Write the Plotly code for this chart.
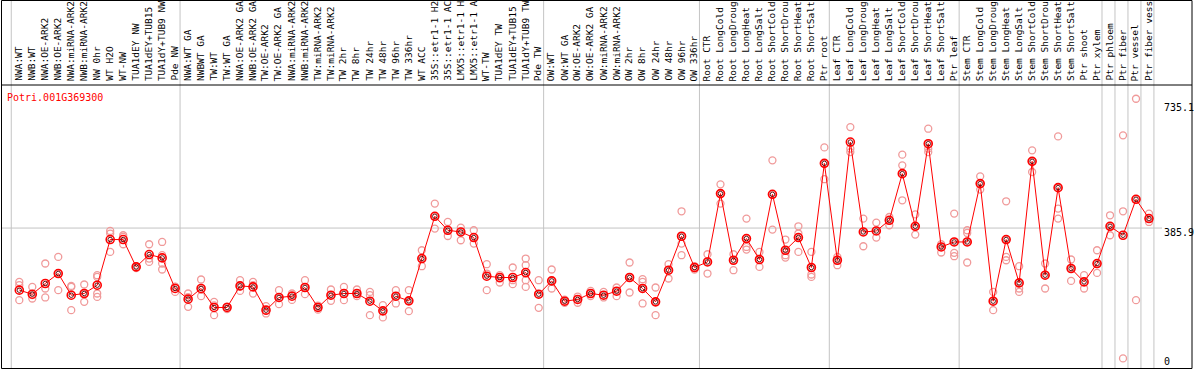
import plotly.graph_objects as go

gene = "Potri.001G369300"

labels = [
    "NWA:WT", "NWB:WT", "NWA:OE-ARK2", "NWB:OE-ARK2", "NWA:miRNA-ARK2", "NWB:miRNA-ARK2",
    "NW 0hr", "WT H2O", "WT-NW", "TUA1dEY NW", "TUA1dEY+TUB15 NW", "TUA1dY+TUB9 NW", "Pde NW",
    "NWA:WT GA", "NWBWT GA", "TW:WT", "TW:WT GA", "NWA:OE-ARK2 GA", "NWB:OE-ARK2 GA",
    "TW:OE-ARK2", "TW:OE-ARK2 GA", "NWA:miRNA-ARK2", "NWB:miRNA-ARK2", "TW:miRNA-ARK2",
    "TW:miRNA-ARK2", "TW 2hr", "TW 8hr", "TW 24hr", "TW 48hr", "TW 96hr", "TW 336hr", "WT ACC",
    "35S::etr1-1 H2O", "35S::etr1-1 ACC", "LMX5::etr1-1 H2O", "LMX5::etr1-1 ACC", "WT-TW",
    "TUA1dEY TW", "TUA1dEY+TUB15 TW", "TUA1dY+TUB9 TW", "Pde TW",
    "OW:WT", "OW:WT GA", "OW:OE-ARK2", "OW:OE-ARK2 GA", "OW:miRNA-ARK2", "OW:miRNA-ARK2",
    "OW 2hr", "OW 8hr", "OW 24hr", "OW 48hr", "OW 96hr", "OW 336hr",
    "Root CTR", "Root LongCold", "Root LongDrought", "Root LongHeat", "Root LongSalt",
    "Root ShortCold", "Root ShortDrought", "Root ShortHeat", "Root ShortSalt", "Ptr root",
    "Leaf CTR", "Leaf LongCold", "Leaf LongDrought", "Leaf LongHeat", "Leaf LongSalt",
    "Leaf ShortCold", "Leaf ShortDrought", "Leaf ShortHeat", "Leaf ShortSalt", "Ptr leaf",
    "Stem CTR", "Stem LongCold", "Stem LongDrought", "Stem LongHeat", "Stem LongSalt",
    "Stem ShortCold", "Stem ShortDrought", "Stem ShortHeat", "Stem ShortSalt", "Ptr shoot",
    "Ptr xylem", "Ptr phloem", "Ptr fiber", "Ptr vessel", "Ptr fiber vessel",
]

means = [
    206.4, 194.8, 225.7, 254.5, 191.9, 196.8, 220.8, 352.7, 352.7, 273.6, 309.4, 299.6, 211.3,
    180.4, 211.3, 156.4, 156.4, 218.8, 215.9, 148.6, 185.3, 189.0, 214.1, 156.4, 191.9, 196.8,
    196.8, 174.6, 146.6, 189.0, 175.5, 297.8, 419.9, 379.5, 374.6, 358.4, 246.8, 243.0, 243.0,
    257.4, 194.8,
    233.2, 174.6, 179.5, 196.8, 191.9, 203.5, 243.0, 211.3, 172.6, 264.1, 362.2, 271.9,
    288.0, 485.4, 292.9, 355.6, 295.0, 483.4, 321.8, 358.4, 271.9, 572.9,
    292.9, 634.4, 374.6, 377.5, 408.4, 543.1, 391.0, 629.7, 331.3, 345.7,
    345.7, 514.3, 174.6, 352.7, 227.4, 578.6, 249.6, 502.7, 269.0, 230.3, 283.4,
    391.0, 365.1, 469.0, 413.3,
]

replicates = [
    [230.3, 220.8, 177.5], [215.9, 182.4, 191.9], [283.4, 211.3, 185.3], [302.5, 206.4, 254.6],
    [218.8, 215.9, 148.6], [222.8, 196.8, 172.6], [249.6, 244.7, 196.8, 187.0],
    [377.5, 370.0, 316.9], [365.1, 360.2, 339.1], [270.0, 275.0, 276.0], [339.1, 297.8, 288.0],
    [345.7, 307.4, 283.4, 266.1], [215.9, 201.4, 216.6],
    [196.8, 158.2, 186.2], [237.2, 189.0, 207.7], [172.6, 134.2, 162.4], [152.0, 158.0, 159.0],
    [235.2, 204.3, 217.0], [230.3, 220.8, 196.6], [160.2, 139.1, 146.5], [206.4, 166.0, 183.5],
    [196.8, 191.9, 178.3], [235.2, 214.1, 194.8], [150.0, 157.0, 162.0], [208.4, 191.9, 175.5],
    [215.9, 196.8, 177.5], [208.4, 196.8, 189.0], [201.4, 191.9, 134.2], [163.1, 145.7, 127.6],
    [206.4, 189.0, 168.0], [206.4, 175.5, 145.7], [321.8, 297.8, 275.6], [456.6, 419.9, 384.4],
    [403.5, 379.5, 363.0], [387.3, 374.6, 350.6], [379.5, 358.4, 341.1], [281.4, 254.5, 206.4],
    [249.6, 240.1, 228.6], [271.9, 235.2, 223.7], [297.8, 278.5, 254.5, 235.2, 215.9],
    [235.2, 194.8, 155.3],
    [266.1, 233.2, 211.3], [170.0, 175.0, 179.0], [170.0, 180.0, 188.0], [204.3, 196.8, 189.3],
    [201.4, 191.9, 185.3], [214.1, 203.5, 189.0], [286.3, 243.0, 199.7],
    [238.1, 230.3, 211.3, 168.0], [214.1, 172.6, 134.2], [281.4, 264.1, 240.1],
    [434.3, 362.2, 341.1, 307.4], [275.6, 271.9, 266.1],
    [310.2, 288.0, 254.5], [512.3, 485.4, 456.6], [310.2, 292.9, 264.1],
    [413.3, 355.6, 331.3, 323.8], [316.9, 295.0, 273.6], [581.5, 483.4, 381.5],
    [352.7, 321.8, 307.4, 300.7], [391.0, 370.0, 358.4, 316.9], [316.9, 271.9, 251.7, 244.7],
    [619.0, 573.0, 527.0],
    [302.5, 292.9, 278.5], [677.6, 615.3, 605.5], [413.3, 374.6, 333.3], [401.7, 377.5, 358.4],
    [417.9, 408.4, 394.0], [598.0, 567.1, 543.1, 466.1], [425.3, 391.0, 367.1],
    [673.0, 629.7, 615.3, 605.5], [339.1, 331.3, 315.2], [427.7, 345.7, 314.0, 304.5],
    [379.5, 371.7, 345.7, 286.3], [535.4, 514.3, 497.0], [201.4, 174.6, 148.6],
    [463.2, 352.7, 302.5, 292.9], [275.6, 227.4, 211.3, 201.4], [610.4, 578.6, 547.8],
    [283.4, 249.6, 211.3], [650.8, 502.7, 442.1, 413.3], [295.0, 269.0, 233.2],
    [249.6, 230.3, 211.3], [321.8, 283.4, 256.3],
    [422.8, 391.0, 365.1], [653.7, 434.3, 9.2], [759.6, 469.0, 177.5], [427.7, 413.3, 403.5],
]

# index of the last sample in each group (-1 = before the first)
group_ends = [-1, 12, 40, 52, 62, 72, 83, 84, 85, 86, 87]
y_ticks = [735.1, 385.9, 0]
y_tick_text = ["735.1", "385.9", "0"]
header_chars = 14   # the header strip shows only this many characters of each name

W, H = 1194, 370
X0, DX = 19.3, 12.985      # pixel of first sample, pixel step
Y0, SY = 361.6, 2.8896     # pixel of value 0, value per pixel


def px_to_x(p):
    return (p - X0) / DX


def py_to_paper(p):
    return 1 - p / H


xs = list(range(len(labels)))

fig = go.Figure()

rx, ry = [], []
for i, vals in enumerate(replicates):
    for v in vals:
        rx.append(i)
        ry.append(v)

fig.add_trace(go.Scatter(
    x=rx, y=ry, mode="markers",
    marker=dict(symbol="circle-open", size=7, color="#f09a9a", line=dict(width=1.3)),
    hoverinfo="skip", showlegend=False,
))
fig.add_trace(go.Scatter(
    x=xs, y=means, mode="lines+markers",
    line=dict(color="#ff0000", width=1),
    marker=dict(symbol="circle-open", size=8, color="#ff0000", line=dict(width=1.6)),
    text=labels, showlegend=False,
))
fig.add_trace(go.Scatter(
    x=xs, y=means, mode="markers",
    marker=dict(symbol="circle-open", size=4.5, color="#500000", line=dict(width=0.9)),
    hoverinfo="skip", showlegend=False,
))

shapes = []
for e in group_ends:
    shapes.append(dict(type="line", xref="x", yref="paper", x0=e + 0.38, x1=e + 0.38,
                       y0=py_to_paper(368.5), y1=py_to_paper(0.5),
                       line=dict(color="#c4c4c4", width=1), layer="below"))
shapes.append(dict(type="line", xref="x", yref="y", x0=px_to_x(2), x1=px_to_x(1162),
                   y0=y_ticks[1], y1=y_ticks[1], line=dict(color="#c4c4c4", width=1),
                   layer="below"))
# header separator and frame
shapes.append(dict(type="line", xref="paper", yref="paper", x0=1.5 / W, x1=1192 / W,
                   y0=py_to_paper(85), y1=py_to_paper(85), line=dict(color="black", width=1)))
shapes.append(dict(type="rect", xref="paper", yref="paper", x0=1.5 / W, x1=1192 / W,
                   y0=py_to_paper(368.5), y1=py_to_paper(0.5),
                   line=dict(color="black", width=1)))

annotations = []
for i, lab in enumerate(labels):
    annotations.append(dict(
        x=i - 0.08, xref="x", y=py_to_paper(83), yref="paper",
        text=lab[:header_chars], textangle=-90, showarrow=False,
        xanchor="center", yanchor="bottom",
        font=dict(family="DejaVu Sans Mono", size=9.5, color="black"),
    ))

annotations.append(dict(
    x=5 / W, xref="paper", y=py_to_paper(97), yref="paper", text=gene, showarrow=False,
    xanchor="left", yanchor="middle",
    font=dict(family="DejaVu Sans Mono", size=10, color="#ff0000"),
))

tick_py = [107.3, 232.7, 361.7]
for t, p in zip(y_tick_text, tick_py):
    annotations.append(dict(
        x=1162 / W, xref="paper", y=py_to_paper(p), yref="paper", text=t, showarrow=False,
        xanchor="left", yanchor="middle",
        font=dict(family="DejaVu Sans Mono", size=10, color="black"),
    ))

fig.update_layout(
    width=W, height=H,
    margin=dict(l=0, r=0, t=0, b=0),
    paper_bgcolor="white", plot_bgcolor="white",
    xaxis=dict(range=[px_to_x(0), px_to_x(W)], visible=False, fixedrange=True),
    yaxis=dict(range=[(Y0 - H) * SY, Y0 * SY], visible=False, fixedrange=True),
    shapes=shapes, annotations=annotations,
    showlegend=False,
)

fig.write_html(
    "out.html",
    config={"displayModeBar": False},
    post_script="document.body.style.margin='0';document.body.style.overflow='hidden';",
)
